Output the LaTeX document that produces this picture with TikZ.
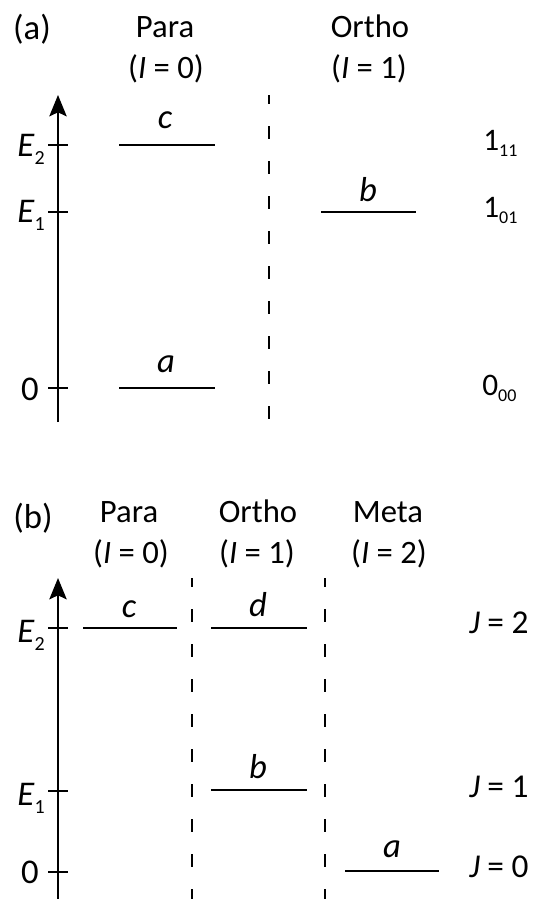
\documentclass[tikz,border=0pt]{standalone}
\usepackage{fontspec}
\setmainfont{Carlito}
\usepackage{tikz}
\usetikzlibrary{arrows.meta}

\newcommand{\lsub}[1]{\raisebox{-5pt}{\fontsize{13.5}{15}\selectfont #1}}
\newcommand{\esub}[1]{\raisebox{-6pt}{\fontsize{15}{17}\selectfont #1}}

\begin{document}
\begin{tikzpicture}[
    x=0.75pt, y=-0.75pt,
    panel/.style={anchor=base, inner sep=0pt, font=\fontsize{26}{31}\selectfont},
    head/.style={anchor=base, inner sep=0pt, font=\fontsize{24.5}{29}\selectfont},
    ylab/.style={anchor=base east, inner sep=0pt, font=\fontsize{26}{31}\selectfont},
    rlab/.style={anchor=base west, inner sep=0pt, font=\fontsize{23.5}{28}\selectfont},
    jlab/.style={anchor=base west, inner sep=0pt, font=\fontsize{25}{30}\selectfont},
    lvlab/.style={anchor=base, inner sep=0pt, font=\fontsize{26}{31}\selectfont\itshape},
    level/.style={line width=1.5pt},
    tickmark/.style={line width=1.5pt},
    axis/.style={line width=1.5pt, -{Stealth[length=16pt, width=13pt, inset=3pt]}},
    divider/.style={line width=1.4pt, dash pattern=on 9.75pt off 16.5pt, dash phase=3pt},
]
    \useasboundingbox (0,0) rectangle (534,899);

    % (a)
    \node[panel] (pa) at (32, 40) {(a)};
    \node[head] (paraA) at (165, 38) {Para};
    \node[head] (paraAI) at (166, 79) {(\textit{I} = 0)};
    \node[head] (orthoA) at (370, 38) {Ortho};
    \node[head] (orthoAI) at (369, 79) {(\textit{I} = 1)};

    \coordinate (axAbot) at (58, 422);
    \coordinate (axAtop) at (58, 95);
    \draw[axis] (axAbot) -- (axAtop);
    \draw[tickmark] (48, 145) -- (68, 145);
    \draw[tickmark] (48, 212) -- (68, 212);
    \draw[tickmark] (48, 388) -- (68, 388);
    \node[ylab] (eTwoA) at (45, 156) {\textit{E}\esub{2}};
    \node[ylab] (eOneA) at (45, 222) {\textit{E}\esub{1}};
    \node[ylab] (zeroA) at (39, 400) {0};

    \draw[divider] (269, 95) -- (269, 422);

    \draw[level] (119, 145) -- (215, 145);
    \draw[level] (321, 212) -- (416, 212);
    \draw[level] (119, 388) -- (215, 388);
    \node[lvlab] (cA) at (165, 128) {c};
    \node[lvlab] (bA) at (368, 201) {b};
    \node[lvlab] (aA) at (166, 372) {a};

    \node[rlab] (rOneA) at (483, 150) {1\lsub{11}};
    \node[rlab] (rTwoA) at (483, 217) {1\lsub{01}};
    \node[rlab] (rZeroA) at (482, 395) {0\lsub{00}};

    % (b)
    \node[panel] (pb) at (33, 528) {(b)};
    \node[head] (paraB) at (129, 522) {Para};
    \node[head] (paraBI) at (131, 563) {(\textit{I} = 0)};
    \node[head] (orthoB) at (258, 522) {Ortho};
    \node[head] (orthoBI) at (257, 563) {(\textit{I} = 1)};
    \node[head] (metaB) at (388, 522) {Meta};
    \node[head] (metaBI) at (389, 563) {(\textit{I} = 2)};

    \coordinate (axBbot) at (58, 899);
    \coordinate (axBtop) at (58, 578);
    \draw[axis] (axBbot) -- (axBtop);
    \draw[tickmark] (48, 628) -- (68, 628);
    \draw[tickmark] (48, 791) -- (68, 791);
    \draw[tickmark] (48, 872) -- (68, 872);
    \node[ylab] (eTwoB) at (45, 642) {\textit{E}\esub{2}};
    \node[ylab] (eOneB) at (45, 805) {\textit{E}\esub{1}};
    \node[ylab] (zeroB) at (39, 883) {0};

    \draw[divider] (192, 578) -- (192, 899);
    \draw[divider] (325, 578) -- (325, 899);

    \draw[level] (83, 628) -- (177, 628);
    \draw[level] (211, 628) -- (307, 628);
    \draw[level] (211, 790) -- (307, 790);
    \draw[level] (345, 871) -- (439, 871);
    \node[lvlab] (cB) at (129, 617) {c};
    \node[lvlab] (dB) at (258, 616) {d};
    \node[lvlab] (bB) at (258, 778) {b};
    \node[lvlab] (aB) at (392, 857) {a};

    \node[jlab] (jTwo) at (469, 633) {\textit{J} = 2};
    \node[jlab] (jOne) at (469, 797) {\textit{J} = 1};
    \node[jlab] (jZero) at (469, 877) {\textit{J} = 0};
\end{tikzpicture}
\end{document}
